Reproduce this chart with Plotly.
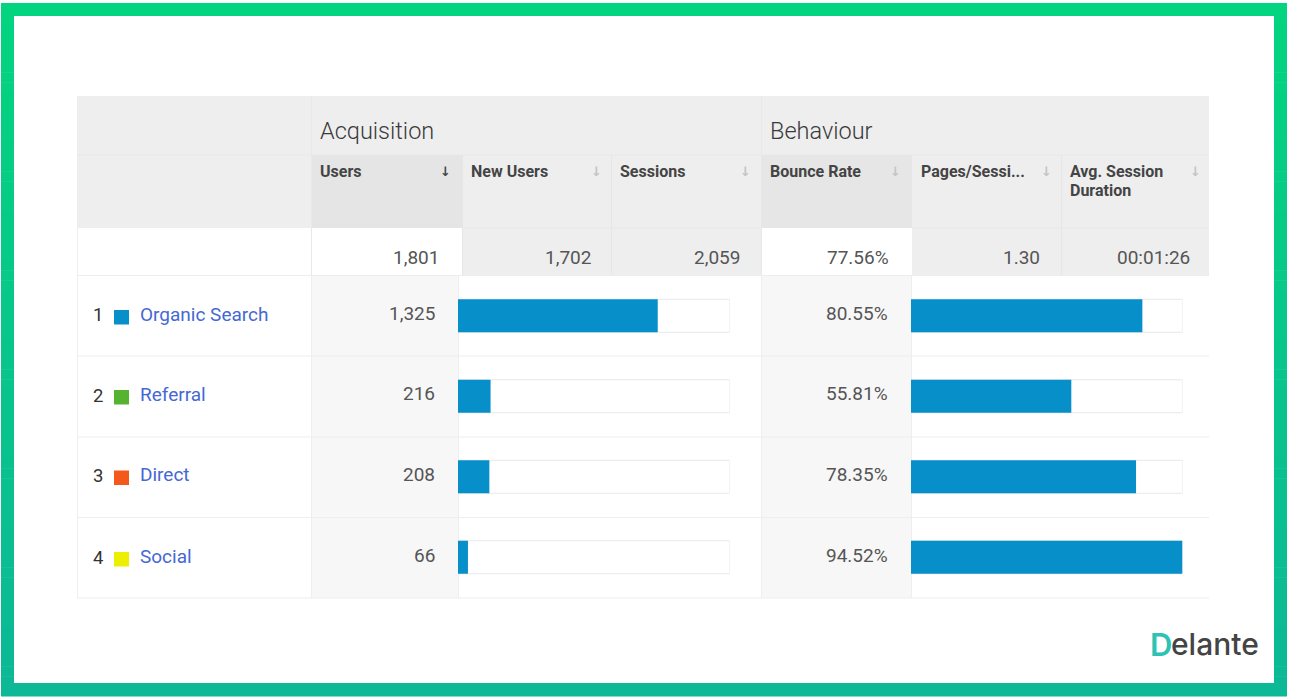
import plotly.graph_objects as go

# ---- data ----
channels = ["Organic Search", "Referral", "Direct", "Social"]
channel_colors = ["#068fc9", "#55b330", "#f4581c", "#ecf000"]
users = [1325, 216, 208, 66]
bounce_rate = [80.55, 55.81, 78.35, 94.52]
users_total = 1801
bounce_max = 94.52
group_labels = ["Acquisition", "Behaviour"]
metric_labels = ["Users", "New Users", "Sessions", "Bounce Rate", "Pages/Sessi...", "Avg. Session<br>Duration"]
total_labels = ["1,801", "1,702", "2,059", "77.56%", "1.30", "00:01:26"]

W, H = 1289, 698
FONT = "Roboto"
px = lambda x: x / W
py = lambda y: 1 - y / H
shapes, ann = [], []


def rect(x0, y0, x1, y1, color):
    shapes.append(dict(type="rect", xref="paper", yref="paper", x0=px(x0), x1=px(x1),
                       y0=py(y0), y1=py(y1), fillcolor=color, line_width=0, layer="below"))


def label(x, y, text, size, color, anchor="left", weight=400, family=FONT):
    ann.append(dict(xref="paper", yref="paper", x=px(x), y=py(y), text=text, showarrow=False,
                    xanchor=anchor, yanchor="middle", align="left",
                    borderpad=0, borderwidth=0,
                    font=dict(family=family, size=size, color=color, weight=weight)))


# frame with a vertical green gradient
top, bottom = (3, 212, 127), (12, 184, 150)
BANDS = 70
y_top, y_bot = 3, 696
for i in range(BANDS):
    t = i / (BANDS - 1)
    c = tuple(round(a + (b - a) * t) for a, b in zip(top, bottom))
    rect(1, y_top + (y_bot - y_top) * i / BANDS, 1287, y_top + (y_bot - y_top) * (i + 1) / BANDS + 0.5, f"rgb{c}")
rect(14, 16, 1274, 683, "#ffffff")

# header bands
GREY, LINE = "#eeeeee", "#eeeeee"
rect(77, 96, 1209, 228, GREY)
rect(312, 155, 462, 228, "#e5e5e5")
rect(762, 155, 911, 228, "#e6e6e6")
rect(463, 228, 761, 276, GREY)
rect(912, 228, 1209, 276, GREY)
rect(312, 276, 458, 598, "#f7f7f7")
rect(762, 276, 911, 598, "#f7f7f7")
# grid lines
rect(77, 154.5, 1209, 155.5, "#e8e8e8")
rect(311, 96, 312, 276, "#e8e8e8")
rect(761, 96, 762, 276, "#e8e8e8")
for x in [462, 611, 1061]:
    rect(x, 155, x + 1, 276, "#e6e6e6")
rect(911, 155, 912, 228, "#e6e6e6")
rect(463, 227.5, 761, 228.5, "#e8e8e8")
rect(912, 227.5, 1209, 228.5, "#e8e8e8")
for y in [275.5, 356, 437, 517.5, 598]:
    rect(77, y - 0.5, 1209, y + 0.5, LINE)
rect(77, 228, 78, 598, LINE)
rect(311, 276, 312, 598, LINE)
rect(458, 276, 459, 598, LINE)
rect(761, 276, 762, 598, LINE)
rect(911, 276, 912, 598, LINE)

# header text
for x, t in zip([320, 770], group_labels):
    label(x, 131, t, 23.5, "#3a3a3a", weight=300)
metric_x = [320, 471, 620, 770, 921, 1070]
arrow_x = [445, 596, 745, 895, 1046, 1195]
for i, (x, ax, t) in enumerate(zip(metric_x, arrow_x, metric_labels)):
    for j, part in enumerate(t.split("<br>")):
        label(x, 172 + 18.5 * j, f"<b>{part}</b>", 16, "#444444")
    label(ax, 172, "<b>↓</b>", 13, "#444444" if i == 0 else "#c4c4c4", anchor="center", family="DejaVu Sans")
total_right = [439, 591, 740, 889, 1040, 1190]
for x, t in zip(total_right, total_labels):
    label(x, 258, t, 19, "#555555", anchor="right")

# rows
row_y = [315, 395, 475.5, 557]
for i, (y, name, col, u, b) in enumerate(zip(row_y, channels, channel_colors, users, bounce_rate)):
    label(92.5, y + 0.5, str(i + 1), 18.5, "#333333")
    rect(114, y - 5, 129, y + 9.5, col)
    label(139.5, y - 1, name, 19, "#4468d4")
    label(435, y - 1.5, f"{u:,}", 19, "#555555", anchor="right")
    label(888, y - 1.5, f"{b:.2f}%", 19, "#555555", anchor="right")

# logo
label(1150, 644, "D", 31, "#2cc2b4", weight=600, family="Inter")
label(1171, 644, "elante", 30, "#444444", weight=500, family="Inter")

TRACK = dict(color="#ffffff", line=dict(color="#e8e8e8", width=1))
BAR = dict(color="#068fc9", line=dict(width=0))
fig = go.Figure()
fig.add_bar(y=channels, x=[users_total] * 4, orientation="h", marker=TRACK, width=0.41, xaxis="x", yaxis="y", hoverinfo="skip")
fig.add_bar(y=channels, x=users, orientation="h", marker=BAR, width=0.41, xaxis="x", yaxis="y", name="Users")
fig.add_bar(y=channels, x=[bounce_max] * 4, orientation="h", marker=TRACK, width=0.41, xaxis="x2", yaxis="y2", hoverinfo="skip")
fig.add_bar(y=channels, x=bounce_rate, orientation="h", marker=BAR, width=0.41, xaxis="x2", yaxis="y2", name="Bounce Rate")

hidden = dict(visible=False, showgrid=False, zeroline=False, fixedrange=True)
fig.update_layout(
    width=W, height=H, autosize=False, margin=dict(l=0, r=0, t=0, b=0),
    paper_bgcolor="#ffffff", plot_bgcolor="rgba(0,0,0,0)",
    barmode="overlay", showlegend=False, shapes=shapes, annotations=ann,
    xaxis=dict(domain=[px(458), px(729.5)], range=[0, users_total], anchor="y", **hidden),
    xaxis2=dict(domain=[px(911), px(1182.5)], range=[0, bounce_max], anchor="y2", **hidden),
    yaxis=dict(domain=[py(597.5), py(275.5)], autorange="reversed", anchor="x", type="category", **hidden),
    yaxis2=dict(domain=[py(597.5), py(275.5)], autorange="reversed", anchor="x2", type="category", **hidden),
)
fig.write_html("out.html", config=dict(displayModeBar=False),
               post_script="document.body.style.margin='0';")
